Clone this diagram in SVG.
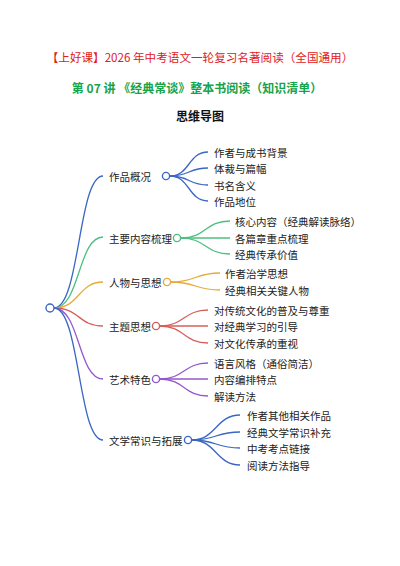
<svg xmlns="http://www.w3.org/2000/svg" width="400" height="566" viewBox="0 0 400 566">
<style>
.t{font-family:"Noto Sans CJK SC","Liberation Sans",sans-serif;fill:#222;dominant-baseline:central}
.m{font-size:10.5px}
.c{font-size:10.5px}
.e{fill:none;stroke-width:1.3}
.dot{fill:#fff;stroke-width:1.4}
.b{stroke:#3b67c4}.g{stroke:#4cbf80}.o{stroke:#e8aa3a}.r{stroke:#d65f5c}.p{stroke:#9557cc}
</style>
<rect width="400" height="566" fill="#fff"/>
<text x="200" y="57" text-anchor="middle" style="font-family:'Noto Sans CJK SC',sans-serif;font-size:11.6px;fill:#e0201b;dominant-baseline:central">【上好课】2026 年中考语文一轮复习名著阅读（全国通用）</text>
<text x="197" y="87" text-anchor="middle" style="font-family:'Noto Sans CJK SC',sans-serif;font-size:12px;font-weight:bold;fill:#16a34a;dominant-baseline:central">第 07 讲 《经典常谈》整本书阅读（知识清单）</text>
<text x="200" y="115" text-anchor="middle" style="font-family:'Noto Sans CJK SC',sans-serif;font-size:12px;font-weight:bold;fill:#111;dominant-baseline:central">思维导图</text>
<g id="connectors">
<path class="e b" d="M54,308 C80,308 78,176 103,176"/>
<path class="e g" d="M54,308 C80,308 78,237 103,237"/>
<path class="e o" d="M54,308 C80,308 78,282 103,282"/>
<path class="e r" d="M54,308 C80,308 78,326 103,326"/>
<path class="e p" d="M54,308 C80,308 78,379 103,379"/>
<path class="e b" d="M54,308 C80,308 78,440 103,440"/>
<path class="e b" d="M170,176 C190,176 188,152 208,152"/>
<path class="e b" d="M170,176 C190,176 188,168 208,168"/>
<path class="e b" d="M170,176 C190,176 188,185 208,185"/>
<path class="e b" d="M170,176 C190,176 188,201 208,201"/>
<path class="e g" d="M181,238 C206,238 205,221 230,221"/>
<path class="e g" d="M181,238 C206,238 205,238 230,238"/>
<path class="e g" d="M181,238 C206,238 205,254 230,254"/>
<path class="e o" d="M171,282 C196,282 195,273 220,273"/>
<path class="e o" d="M171,282 C196,282 195,290 220,290"/>
<path class="e r" d="M160,326 C184,326 184,310 208,310"/>
<path class="e r" d="M160,326 C184,326 184,326 208,326"/>
<path class="e r" d="M160,326 C184,326 184,343 208,343"/>
<path class="e p" d="M160,379 C184,379 184,363 208,363"/>
<path class="e p" d="M160,379 C184,379 184,379 208,379"/>
<path class="e p" d="M160,379 C184,379 184,396 208,396"/>
<path class="e b" d="M192,440 C216,440 216,415 240,415"/>
<path class="e b" d="M192,440 C216,440 216,432 240,432"/>
<path class="e b" d="M192,440 C216,440 216,448 240,448"/>
<path class="e b" d="M192,440 C216,440 216,465 240,465"/>
</g>
<g id="root"><circle class="dot b" cx="50" cy="308" r="4"/></g>
<g id="n1"><text class="t m" x="109" y="176">作品概况</text><circle class="dot b" cx="166" cy="176" r="3.6"/></g>
<g id="n1a"><text class="t c" x="214" y="152">作者与成书背景</text></g>
<g id="n1b"><text class="t c" x="214" y="168">体裁与篇幅</text></g>
<g id="n1c"><text class="t c" x="214" y="185">书名含义</text></g>
<g id="n1d"><text class="t c" x="214" y="201">作品地位</text></g>
<g id="n2"><text class="t m" x="109" y="238">主要内容梳理</text><circle class="dot g" cx="177" cy="238" r="3.6"/></g>
<g id="n2a"><text class="t c" x="235" y="221">核心内容（经典解读脉络）</text></g>
<g id="n2b"><text class="t c" x="235" y="238">各篇章重点梳理</text></g>
<g id="n2c"><text class="t c" x="235" y="254">经典传承价值</text></g>
<g id="n3"><text class="t m" x="109" y="282">人物与思想</text><circle class="dot o" cx="167" cy="282" r="3.6"/></g>
<g id="n3a"><text class="t c" x="225" y="273">作者治学思想</text></g>
<g id="n3b"><text class="t c" x="225" y="290">经典相关关键人物</text></g>
<g id="n4"><text class="t m" x="109" y="326">主题思想</text><circle class="dot r" cx="156" cy="326" r="3.6"/></g>
<g id="n4a"><text class="t c" x="214" y="310">对传统文化的普及与尊重</text></g>
<g id="n4b"><text class="t c" x="214" y="326">对经典学习的引导</text></g>
<g id="n4c"><text class="t c" x="214" y="343">对文化传承的重视</text></g>
<g id="n5"><text class="t m" x="109" y="379">艺术特色</text><circle class="dot p" cx="156" cy="379" r="3.6"/></g>
<g id="n5a"><text class="t c" x="214" y="363">语言风格（通俗简洁）</text></g>
<g id="n5b"><text class="t c" x="214" y="379">内容编排特点</text></g>
<g id="n5c"><text class="t c" x="214" y="396">解读方法</text></g>
<g id="n6"><text class="t m" x="109" y="440">文学常识与拓展</text><circle class="dot b" cx="188" cy="440" r="3.6"/></g>
<g id="n6a"><text class="t c" x="247" y="415">作者其他相关作品</text></g>
<g id="n6b"><text class="t c" x="247" y="432">经典文学常识补充</text></g>
<g id="n6c"><text class="t c" x="247" y="448">中考考点链接</text></g>
<g id="n6d"><text class="t c" x="247" y="465">阅读方法指导</text></g>
</svg>
